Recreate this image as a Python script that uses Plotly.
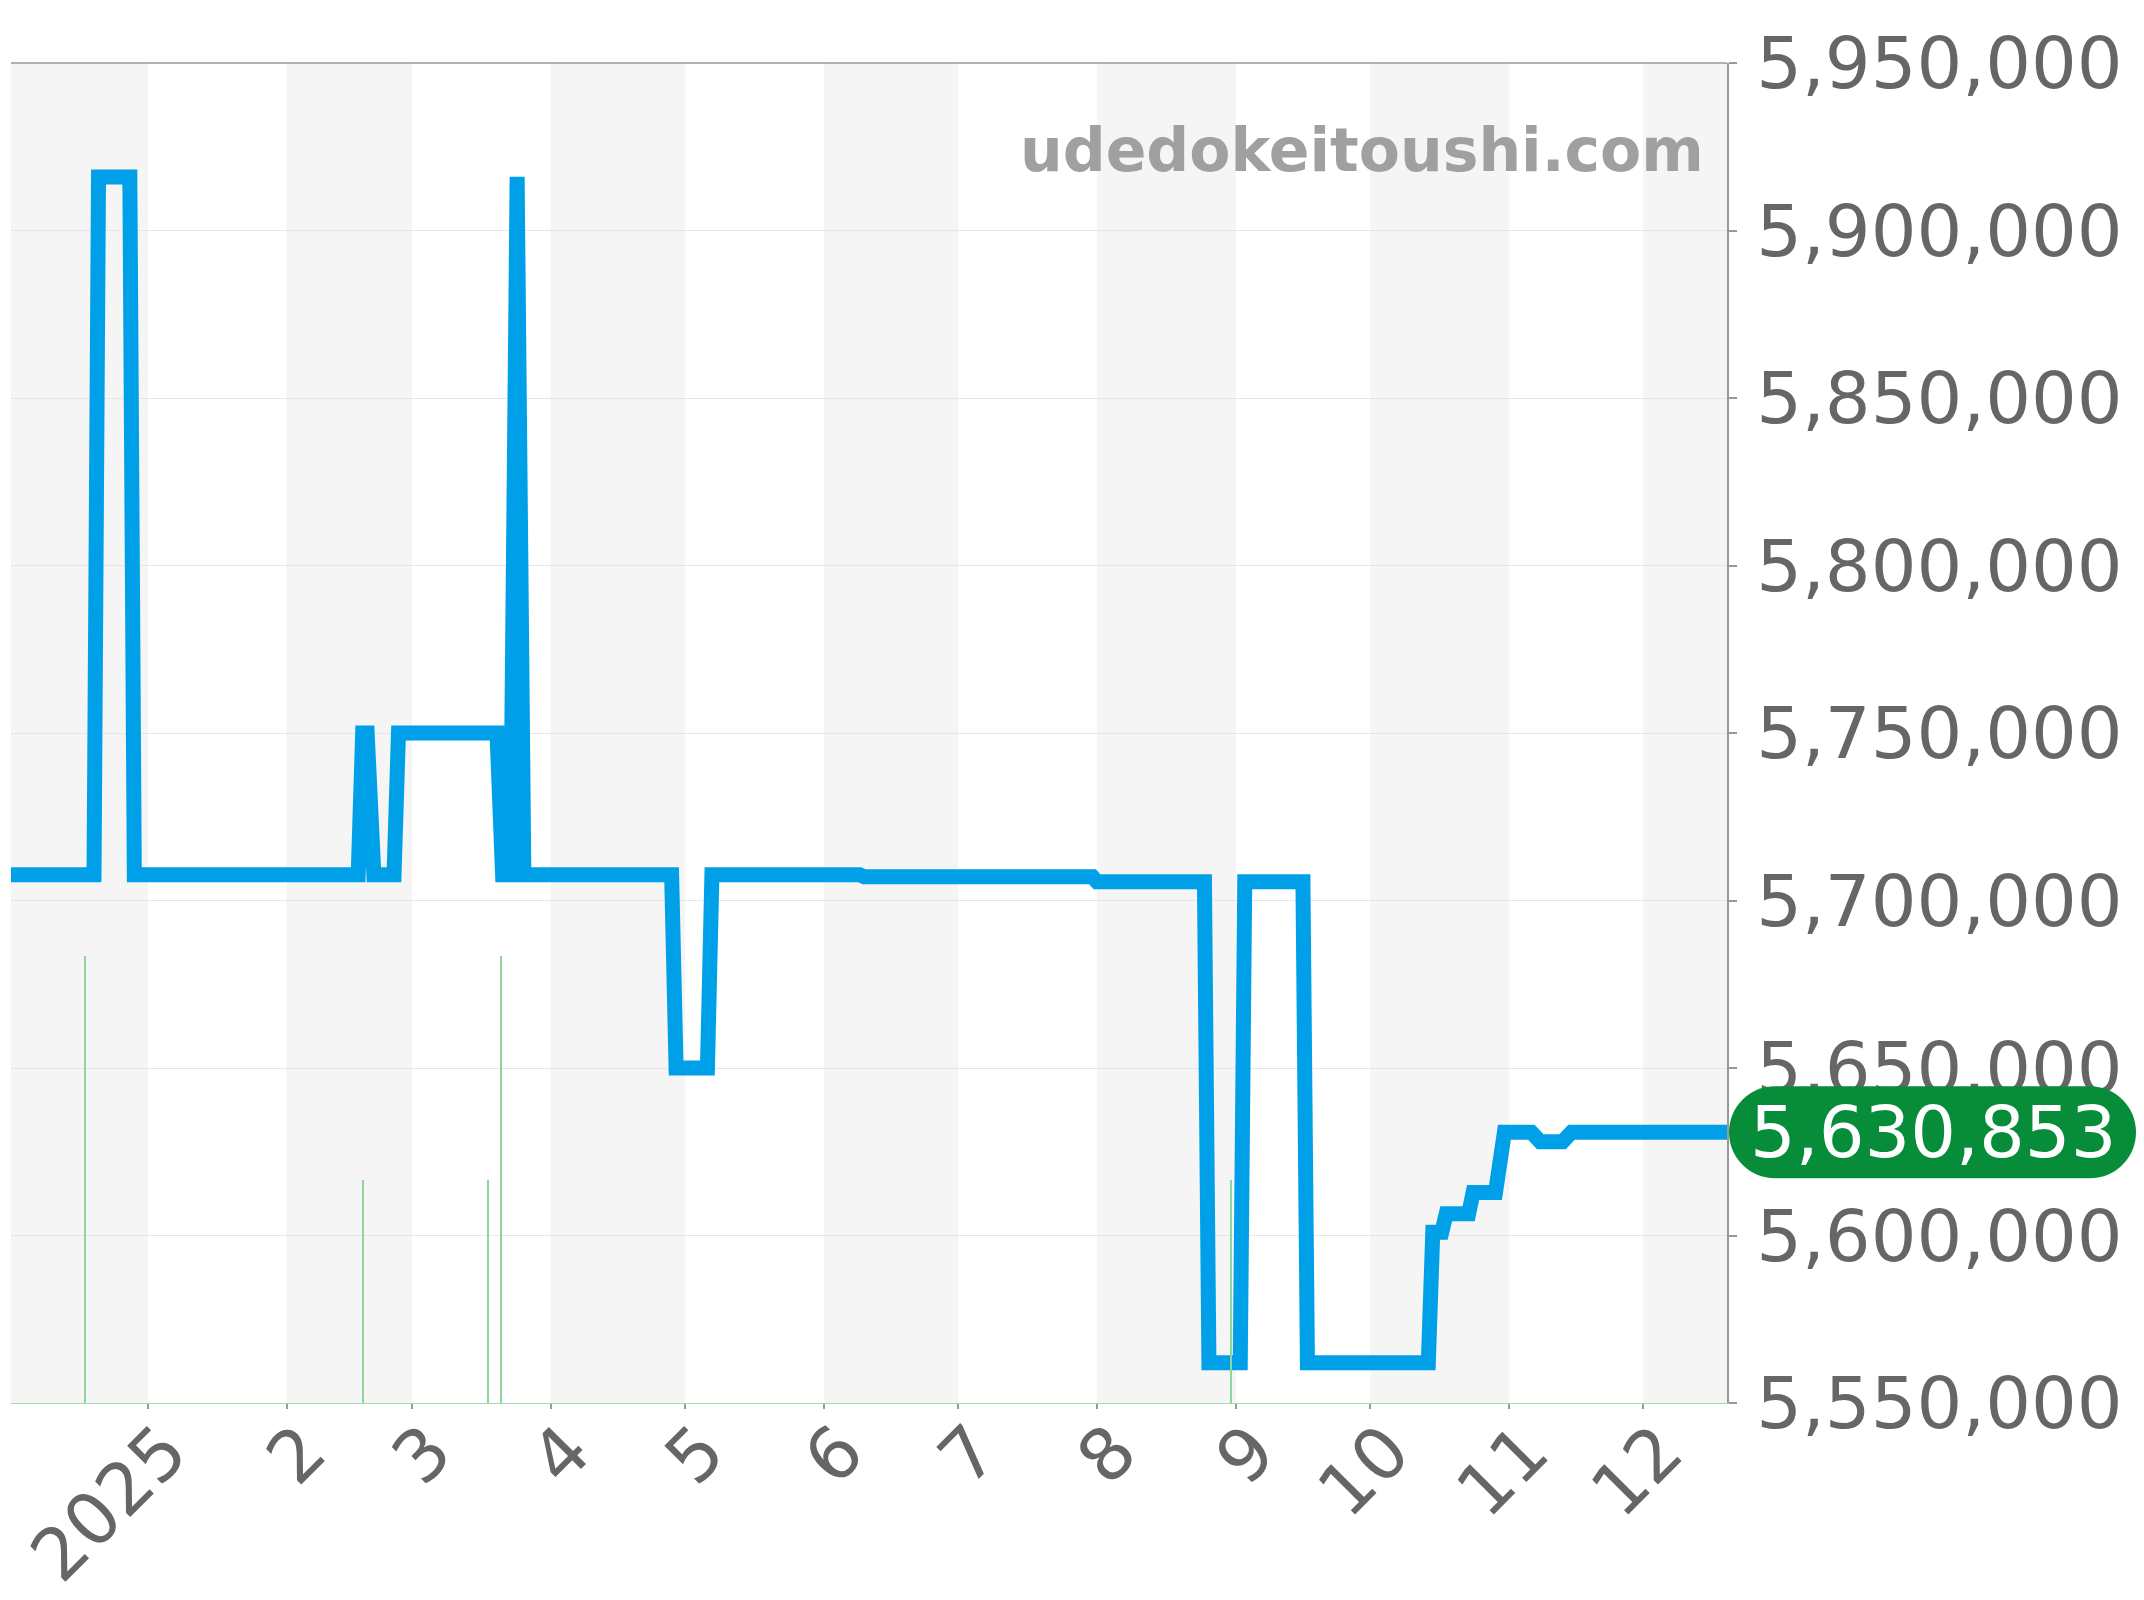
import plotly.graph_objects as go

# ---------------- data ----------------
dates = [
    "2024-12-01", "2024-12-20", "2024-12-21", "2024-12-28", "2024-12-29",
    "2025-02-17", "2025-02-18", "2025-02-19", "2025-02-20 12:00",
    "2025-02-25", "2025-02-26", "2025-03-20", "2025-03-21 06:00",
    "2025-03-23", "2025-03-24 12:00", "2025-03-26",
    "2025-04-28", "2025-04-29", "2025-05-06", "2025-05-07",
    "2025-06-09", "2025-06-10", "2025-07-31", "2025-08-01",
    "2025-08-25", "2025-08-26", "2025-09-02", "2025-09-03",
    "2025-09-16", "2025-09-17", "2025-10-14", "2025-10-15",
    "2025-10-17", "2025-10-18", "2025-10-23", "2025-10-24",
    "2025-10-29", "2025-10-31", "2025-11-06", "2025-11-08",
    "2025-11-13", "2025-11-15", "2025-12-20",
]
prices = [
    5707700, 5707700, 5916000, 5916000, 5707700,
    5707700, 5750000, 5750000, 5707700,
    5707700, 5750000, 5750000, 5707700,
    5707700, 5916000, 5707700,
    5707700, 5650000, 5650000, 5707700,
    5707700, 5707100, 5707100, 5705600,
    5705600, 5562000, 5562000, 5705600,
    5705600, 5562000, 5562000, 5601000,
    5601000, 5606500, 5606500, 5612800,
    5612800, 5630853, 5630853, 5628000,
    5628000, 5630853, 5630853,
]

vol_dates = ["2024-12-18", "2025-02-18", "2025-03-18", "2025-03-21", "2025-08-31"]
vol_counts = [2, 1, 1, 2, 1]

tick_dates = ["2025-01-01", "2025-02-01", "2025-03-01", "2025-04-01", "2025-05-01",
              "2025-06-01", "2025-07-01", "2025-08-01", "2025-09-01", "2025-10-01",
              "2025-11-01", "2025-12-01"]
tick_labels = ["2025", "2", "3", "4", "5", "6", "7", "8", "9", "10", "11", "12"]

y_ticks = [5550000, 5600000, 5650000, 5700000, 5750000, 5800000, 5850000, 5900000, 5950000]

shade_months = [("2024-11-01", "2025-01-01"), ("2025-02-01", "2025-03-01"),
                ("2025-04-01", "2025-05-01"), ("2025-06-01", "2025-07-01"),
                ("2025-08-01", "2025-09-01"), ("2025-10-01", "2025-11-01"),
                ("2025-12-01", "2026-01-01")]

x_range = ["2024-12-01 11:00", "2025-12-19 17:00"]
y_range = [5550000, 5950000]

FONT = "DejaVu Sans"
TXT = "#666666"

# page body has an 8px default margin; compensate
W, H = 2136, 1592
ML, MR, MT, MB = 3, 417, 55, 197

# ---------------- figure ----------------
fig = go.Figure()

fig.add_trace(go.Bar(
    x=vol_dates, y=vol_counts, yaxis="y2",
    width=0.3 * 86400000,
    marker=dict(color="#8fd69b", line=dict(width=0)),
    hoverinfo="skip",
))

fig.add_trace(go.Scatter(
    x=dates, y=prices, mode="lines",
    line=dict(color="#00a0e9", width=15),
    hoverinfo="skip",
))

shapes = []
for a, b in shade_months:
    shapes.append(dict(type="rect", xref="x", yref="paper", x0=a, x1=b, y0=0, y1=1,
                       fillcolor="#f5f5f5", line=dict(width=0), layer="below"))
# top frame line
shapes.append(dict(type="line", xref="paper", yref="paper", x0=0, x1=1, y0=1, y1=1,
                   line=dict(color="#999999", width=1.5), layer="above"))

# last-value pill
last_val = prices[-1]
plot_w = W - ML - MR
px_per_unit = (H - MT - MB) / (y_range[1] - y_range[0])
ry = 46 / px_per_unit
rx = 46 / plot_w
x0p = 2 / plot_w + 1.0
x1p = 1.0 + 409 / plot_w
k = 0.5523
yb, yt, yc = last_val - ry, last_val + ry, last_val
path = (
    f"M {x0p + rx},{yb} L {x1p - rx},{yb} "
    f"C {x1p - rx + k * rx},{yb} {x1p},{yc - k * ry} {x1p},{yc} "
    f"C {x1p},{yc + k * ry} {x1p - rx + k * rx},{yt} {x1p - rx},{yt} "
    f"L {x0p + rx},{yt} "
    f"C {x0p + rx - k * rx},{yt} {x0p},{yc + k * ry} {x0p},{yc} "
    f"C {x0p},{yc - k * ry} {x0p + rx - k * rx},{yb} {x0p + rx},{yb} Z"
)
shapes.append(dict(type="path", xref="paper", yref="y", path=path,
                   fillcolor="#078d3a", line=dict(width=0), layer="above"))

annotations = [
    dict(xref="paper", yref="paper", x=0.988, y=0.935, xanchor="right", yanchor="middle",
         text="udedokeitoushi.com", showarrow=False,
         font=dict(family=FONT, size=60, color="#a0a0a0", weight="bold")),
    dict(xref="paper", yref="y", x=(x0p + x1p) / 2, y=last_val, xanchor="center",
         yanchor="middle", text=f"{last_val:,}", showarrow=False,
         font=dict(family=FONT, size=72, color="#ffffff")),
]

fig.update_layout(
    width=W, height=H,
    margin=dict(l=ML, r=MR, t=MT, b=MB, pad=0, autoexpand=False),
    paper_bgcolor="#ffffff", plot_bgcolor="#ffffff",
    showlegend=False,
    font=dict(family=FONT, color=TXT),
    shapes=shapes, annotations=annotations,
    bargap=0,
    xaxis=dict(
        type="date", range=x_range, automargin=False,
        tickmode="array", tickvals=tick_dates, ticktext=tick_labels,
        tickangle=-45, tickfont=dict(family=FONT, size=72, color=TXT),
        ticklabeloverflow="allow", ticklabelstandoff=-29, ticklabelshift=18,
        showgrid=False, zeroline=False,
        ticks="outside", ticklen=5, tickcolor="#999999", tickwidth=1.5,
        showline=True, linecolor="#9fdca6", linewidth=1,
    ),
    yaxis=dict(
        side="right", range=y_range, automargin=False,
        tickmode="array", tickvals=y_ticks, tickformat=",d",
        tickfont=dict(family=FONT, size=72, color=TXT),
        ticklabelstandoff=5,
        showgrid=True, gridcolor="#e6e6e6", gridwidth=1, zeroline=False,
        ticks="outside", ticklen=8, tickcolor="#999999", tickwidth=1.5,
        showline=True, linecolor="#999999", linewidth=1.5,
    ),
    yaxis2=dict(overlaying="y", range=[0, 6], visible=False, automargin=False),
)

fig.write_html("out.html")
